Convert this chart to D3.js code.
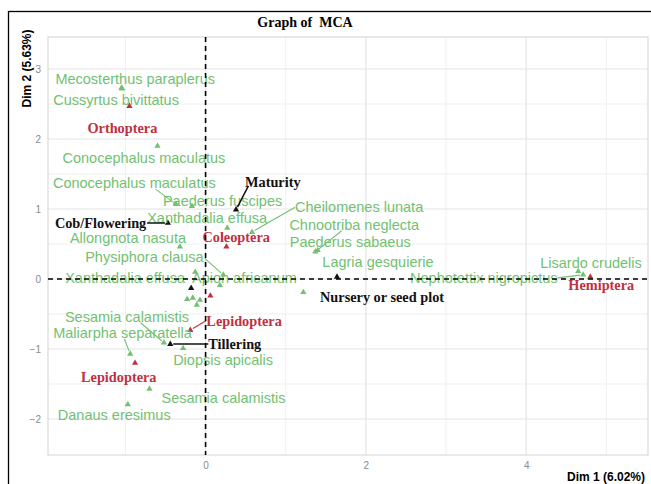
<!DOCTYPE html>
<html>
<head>
<meta charset="utf-8">
<script src="https://cdn.jsdelivr.net/npm/d3@7/dist/d3.min.js"></script>
<style>
  html, body { margin: 0; padding: 0; background: #fff; }
  svg { display: block; }
</style>
</head>
<body>
<svg id="chart" width="651" height="484"></svg>
<script>
// MCA factor map: insect species, insect orders and crop growth stages

// Insect species (green)
const speciesNames = [
  "Mecosterthus paraplerus", "Cussyrtus bivittatus", "Conocephalus maculatus",
  "Conocephalus maculatus", "Paederus fuscipes", "Xanthadalia effusa",
  "Cheilomenes lunata", "Allongnota nasuta", "Chnootriba neglecta",
  "Paederus sabaeus", "Lagria gesquierie", "Physiphora clausa",
  "Xanthadalia effusa", "Apion africanum", "Lisardo crudelis",
  "Nephotettix nigropictus", "Sesamia calamistis", "Maliarpha separatella",
  "Diopsis apicalis", "Sesamia calamistis", "Danaus eresimus",
  null, null, null, null
];
const speciesDim1 = [
  -1.05, -1.04, -0.60, -0.37, -0.17, 0.27, 0.58, -0.32, 1.37, 1.40, 1.22, 0.22,
  -0.13, 0.18, 4.65, 4.71, -0.52, -0.94, -0.28, -0.70, -0.97,
  -0.23, -0.16, -0.11, -0.07
];
const speciesDim2 = [
  2.73, 2.72, 1.90, 1.07, 1.04, 0.73, 0.67, 0.46, 0.39, 0.41, -0.19, 0.06,
  0.10, -0.09, 0.11, 0.06, -0.91, -1.07, -0.99, -1.57, -1.79,
  -0.29, -0.27, -0.37, -0.30
];

// Insect orders (red)
const orderNames = ["Orthoptera", "Coleoptera", "Lepidoptera", "Lepidoptera", "Hemiptera", null];
const orderDim1 = [-0.95, 0.26, -0.19, -0.88, 4.80, 0.06];
const orderDim2 = [2.47, 0.46, -0.73, -1.20, 0.03, -0.24];

// Crop growth stages (black)
const stageNames = ["Maturity", "Cob/Flowering", "Tillering", "Nursery or seed plot", null];
const stageDim1 = [0.38, -0.47, -0.44, 1.64, -0.18];
const stageDim2 = [0.99, 0.80, -0.93, 0.03, -0.13];

// Axis ticks
const xTicks = [0, 2, 4];
const yTicks = [-2, -1, 0, 1, 2, 3];
const xMinor = [-1, 1, 3, 5];
const yMinor = [-1.5, -0.5, 0.5, 1.5, 2.5];

// Label placement: offset (px) of the label's left edge / vertical centre from its point,
// then, for labels joined by a leader, where the leader leaves the label box
// (fraction across its width, fraction down its height)
const speciesLabelLayout = [
  [-66, -9], [-69, 11], [-95, 12], [-123, -21, [0.63, 1]], [-29, -5],
  [-80, -10], [43, -25, [0, 0.5]], [-110, -9], [-26, -27, [0.4, 1]], [-28, -8],
  [19, -30], [-138, -18, [1, 0.6]], [-130, 6], [-28, -7], [-38, -8],
  [-173, 3, [1, 0.5]], [-99, -26, [0.61, 1]], [-77, -21, [0.51, 1]], [-10, 12], [12, 9],
  [-70, 11], null, null, null, null
];
const orderLabelLayout = [[-42, 22], [-24, -10], [16, -9, [0, 0.45]], [-54, 14], [-22, 8], null];
const stageLabelLayout = [[9, -28, [0.06, 0.85]], [-113, 0, [1, 0.5]], [38, 0, [0, 0.5]], [-17, 20], null];

const GREEN = "#72c172";
const RED = "#c0303f";
const BLACK = "#111";

const svg = d3.select("#chart");
const W = 651, H = 484;
const panel = { left: 48, right: 648, top: 37, bottom: 455 };

const x = d3.scaleLinear().domain([-1.966, 5.52]).range([panel.left, panel.right]);
const y = d3.scaleLinear().domain([-2.514, 3.457]).range([panel.bottom, panel.top]);

svg.append("rect").attr("width", W).attr("height", H).attr("fill", "#fff");

// outer frame
svg.append("rect")
  .attr("x", 8.5).attr("y", 11.5).attr("width", W + 20).attr("height", H + 20)
  .attr("fill", "none").attr("stroke", "#000").attr("stroke-width", 1.3);

// grid
const grid = svg.append("g");
grid.selectAll(".vmin").data(xMinor).join("line")
  .attr("x1", d => x(d)).attr("x2", d => x(d))
  .attr("y1", panel.top).attr("y2", panel.bottom)
  .attr("stroke", "#efefef").attr("stroke-width", 1);
grid.selectAll(".hmin").data(yMinor).join("line")
  .attr("y1", d => y(d)).attr("y2", d => y(d))
  .attr("x1", panel.left).attr("x2", panel.right)
  .attr("stroke", "#efefef").attr("stroke-width", 1);
grid.selectAll(".vmaj").data(xTicks).join("line")
  .attr("x1", d => x(d)).attr("x2", d => x(d))
  .attr("y1", panel.top).attr("y2", panel.bottom)
  .attr("stroke", "#e4e4e4").attr("stroke-width", 1.2);
grid.selectAll(".hmaj").data(yTicks).join("line")
  .attr("y1", d => y(d)).attr("y2", d => y(d))
  .attr("x1", panel.left).attr("x2", panel.right)
  .attr("stroke", "#e4e4e4").attr("stroke-width", 1.2);
svg.append("rect")
  .attr("x", panel.left).attr("y", panel.top)
  .attr("width", panel.right - panel.left).attr("height", panel.bottom - panel.top)
  .attr("fill", "none").attr("stroke", "#dadada").attr("stroke-width", 1.2);

// axes
const xAxis = svg.append("g").attr("transform", `translate(0,${panel.bottom})`)
  .call(d3.axisBottom(x).tickValues(xTicks).tickFormat(d3.format("d")).tickSize(0).tickPadding(7));
const yAxis = svg.append("g").attr("transform", `translate(${panel.left},0)`)
  .call(d3.axisLeft(y).tickValues(yTicks).tickFormat(d3.format("d")).tickSize(0).tickPadding(7));
[xAxis, yAxis].forEach(a => {
  a.select(".domain").remove();
  a.selectAll("text").attr("fill", "#8a8a8a")
    .style("font-family", "Liberation Sans, Arial, sans-serif").style("font-size", "10px");
});

// titles
svg.append("text").attr("x", 305).attr("y", 27).attr("text-anchor", "middle")
  .style("font-family", "Liberation Serif, Times New Roman, serif")
  .style("font-weight", "bold").style("font-size", "14px")
  .attr("xml:space", "preserve")
  .text("Graph of  MCA");
svg.append("text").attr("x", 645).attr("y", 481).attr("text-anchor", "end")
  .style("font-family", "Liberation Sans, Arial, sans-serif")
  .style("font-weight", "bold").style("font-size", "12px")
  .text("Dim 1 (6.02%)");
svg.append("text").attr("transform", "translate(31,68.5) rotate(-90)")
  .attr("text-anchor", "middle")
  .style("font-family", "Liberation Sans, Arial, sans-serif")
  .style("font-weight", "bold").style("font-size", "12px")
  .text("Dim 2 (5.63%)");

// assemble point sets
function build(names, d1, d2, layout, color, font) {
  return names.map((n, i) => ({ name: n, d1: d1[i], d2: d2[i], lay: layout[i], color, font }));
}
const sansFont = { family: "Liberation Sans, Arial, sans-serif", weight: "normal", size: 14.5 };
const serifFont = { family: "Liberation Serif, Times New Roman, serif", weight: "bold", size: 14.3 };
const species = build(speciesNames, speciesDim1, speciesDim2, speciesLabelLayout, GREEN, sansFont);
const orders = build(orderNames, orderDim1, orderDim2, orderLabelLayout, RED, serifFont);
const stages = build(stageNames, stageDim1, stageDim2, stageLabelLayout, BLACK, serifFont);
const all = species.concat(orders, stages);

const tri = d3.symbol(d3.symbolTriangle).size(17);
svg.append("g").selectAll("path").data(all).join("path")
  .attr("d", tri)
  .attr("transform", d => `translate(${x(d.d1)},${y(d.d2)})`)
  .attr("fill", d => d.color);

// labels
const labelled = all.filter(d => d.name && d.lay);
const labelG = svg.append("g");
labelled.forEach(d => {
  const px = x(d.d1), py = y(d.d2);
  const t = labelG.append("text")
    .attr("x", px + d.lay[0]).attr("y", py + d.lay[1]).attr("dy", "0.35em")
    .attr("fill", d.color)
    .style("font-family", d.font.family).style("font-weight", d.font.weight)
    .style("font-size", d.font.size + "px")
    .text(d.name);
  d.textNode = t.node();
});

// leader segments from the label box to the point
const segG = svg.append("g");
labelled.filter(d => d.lay[2]).forEach(d => {
  const px = x(d.d1), py = y(d.d2);
  const b = d.textNode.getBBox();
  const sx = b.x + b.width * d.lay[2][0];
  const sy = (b.y + 2) + (b.height - 4) * d.lay[2][1];
  const len = Math.hypot(px - sx, py - sy);
  const k = (len - 3) / len;
  segG.append("line")
    .attr("x1", sx).attr("y1", sy)
    .attr("x2", sx + (px - sx) * k).attr("y2", sy + (py - sy) * k)
    .attr("stroke", d.color).attr("stroke-width", d.color === BLACK ? 1.5 : 1.1);
});

// reference lines through the origin
svg.append("line")
  .attr("x1", x(0)).attr("x2", x(0)).attr("y1", panel.top).attr("y2", panel.bottom)
  .attr("stroke", "#000").attr("stroke-width", 1.6).attr("stroke-dasharray", "5,4");
svg.append("line")
  .attr("y1", y(0)).attr("y2", y(0)).attr("x1", panel.left).attr("x2", panel.right)
  .attr("stroke", "#000").attr("stroke-width", 1.6).attr("stroke-dasharray", "5,4");
</script>
</body>
</html>
